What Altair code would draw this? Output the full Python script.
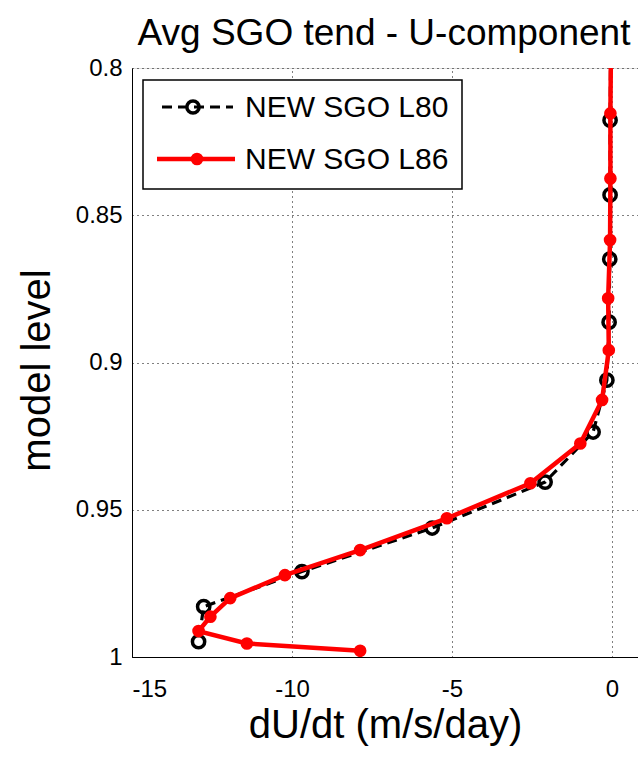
import altair as alt
import pandas as pd

title_text = "Avg SGO tend - U-component"
series_names = ["NEW SGO L80", "NEW SGO L86"]

# model level (sigma) and dU/dt (m/s/day)
l80_level = [0.79, 0.8177, 0.8431, 0.8649, 0.8863, 0.9060, 0.9236, 0.9406, 0.9562, 0.9710, 0.9829, 0.9948]
l80_dudt = [-0.04, -0.06, -0.06, -0.07, -0.09, -0.16, -0.59, -2.09, -5.62, -9.69, -12.76, -12.92]

l86_level = [0.79, 0.8154, 0.8375, 0.8584, 0.8782, 0.8958, 0.9127, 0.9275, 0.9410, 0.9529,
             0.9637, 0.9722, 0.9800, 0.9863, 0.9912, 0.9954, 0.9979]
l86_dudt = [-0.03, -0.05, -0.05, -0.06, -0.12, -0.10, -0.31, -0.99, -2.55, -5.16,
            -7.87, -10.22, -11.93, -12.55, -12.92, -11.41, -7.87]

x_ticks = [-15, -10, -5, 0]
y_ticks = [0.8, 0.85, 0.9, 0.95, 1.0]

df80 = pd.DataFrame({"level": l80_level, "dudt": l80_dudt, "idx": range(len(l80_level)),
                     "series": series_names[0]})
df86 = pd.DataFrame({"level": l86_level, "dudt": l86_dudt, "idx": range(len(l86_level)),
                     "series": series_names[1]})

FONT = "Liberation Sans"

xenc = alt.X("dudt:Q",
             scale=alt.Scale(domain=[-15, 0.8125], nice=False, zero=False),
             axis=alt.Axis(values=x_ticks, title="dU/dt (m/s/day)", labelExpr="datum.value + ''",
                           labelFont=FONT, labelFontSize=24, labelColor="black", labelPadding=20,
                           titleFont=FONT, titleFontSize=40, titleFontWeight="normal",
                           titleColor="black", titlePadding=4,
                           domainColor="black", domainWidth=1, ticks=False,
                           grid=True, gridColor="black", gridDash=[1, 4], gridOpacity=1, gridWidth=1))
yenc = alt.Y("level:Q",
             scale=alt.Scale(domain=[0.8, 1.0], reverse=True, nice=False, zero=False),
             axis=alt.Axis(values=y_ticks, title="model level", labelExpr="datum.value + ''",
                           labelFont=FONT, labelFontSize=24, labelColor="black", labelPadding=10,
                           titleFont=FONT, titleFontSize=40, titleFontWeight="normal",
                           titleColor="black", titlePadding=18, titleY=302,
                           domainColor="black", domainWidth=1, ticks=False,
                           grid=True, gridColor="black", gridDash=[1, 4], gridOpacity=1, gridWidth=1))

line80 = alt.Chart(df80).mark_line(color="black", strokeWidth=3.2, strokeDash=[10, 6], clip=True).encode(
    x=xenc, y=yenc, order="idx:Q")
pts80 = alt.Chart(df80).mark_point(shape="circle", filled=False, color="black", size=150,
                                   strokeWidth=3.5, opacity=1, clip=True).encode(x=xenc, y=yenc)
line86 = alt.Chart(df86).mark_line(color="red", strokeWidth=4.5, clip=True).encode(
    x=xenc, y=yenc, order="idx:Q")
pts86 = alt.Chart(df86).mark_point(shape="circle", filled=True, color="red", size=160,
                                   opacity=1, clip=True).encode(x=xenc, y=yenc)

# title and legend (drawn with marks in pixel space)
leg_df = pd.DataFrame({"label": series_names, "title": [title_text, title_text]})
first = "datum.label == 'NEW SGO L80'"
second = "datum.label == 'NEW SGO L86'"
title_mark = alt.Chart(leg_df).transform_filter(first).mark_text(
    align="center", baseline="alphabetic", font=FONT, fontSize=37, color="black").encode(
    x=alt.value(252), y=alt.value(-23), text="title:N")
leg_box = alt.Chart(leg_df).transform_filter(first).mark_rect(
    fill="white", stroke="black", strokeWidth=1.5).encode(
    x=alt.value(11), x2=alt.value(330), y=alt.value(12), y2=alt.value(121))
leg_l80 = alt.Chart(leg_df).transform_filter(first).mark_rule(
    color="black", strokeWidth=3.2, strokeDash=[10, 6]).encode(
    x=alt.value(30), x2=alt.value(101), y=alt.value(39))
leg_p80 = alt.Chart(leg_df).transform_filter(first).mark_point(
    shape="circle", filled=False, color="black", size=150, strokeWidth=3.5, opacity=1).encode(
    x=alt.value(61), y=alt.value(39))
leg_l86 = alt.Chart(leg_df).transform_filter(second).mark_rule(
    color="red", strokeWidth=4.5).encode(
    x=alt.value(25), x2=alt.value(103), y=alt.value(91))
leg_p86 = alt.Chart(leg_df).transform_filter(second).mark_point(
    shape="circle", filled=True, color="red", size=160, opacity=1).encode(
    x=alt.value(65), y=alt.value(91))
leg_t80 = alt.Chart(leg_df).transform_filter(first).mark_text(
    align="left", baseline="middle", font=FONT, fontSize=30, color="black").encode(
    x=alt.value(113), y=alt.value(40), text="label:N")
leg_t86 = alt.Chart(leg_df).transform_filter(second).mark_text(
    align="left", baseline="middle", font=FONT, fontSize=30, color="black").encode(
    x=alt.value(113), y=alt.value(92), text="label:N")

chart = alt.layer(
    line80, pts80, line86, pts86,
    leg_box, leg_l80, leg_p80, leg_l86, leg_p86, leg_t80, leg_t86, title_mark
).properties(
    width=506, height=589,
    autosize=alt.AutoSizeParams(type="none"),
    padding={"left": 132, "top": 68, "right": 0, "bottom": 100},
).configure_view(stroke="black", strokeWidth=1).configure(background="white")

chart.save("out.html", embed_options={"renderer": "svg", "actions": False})
